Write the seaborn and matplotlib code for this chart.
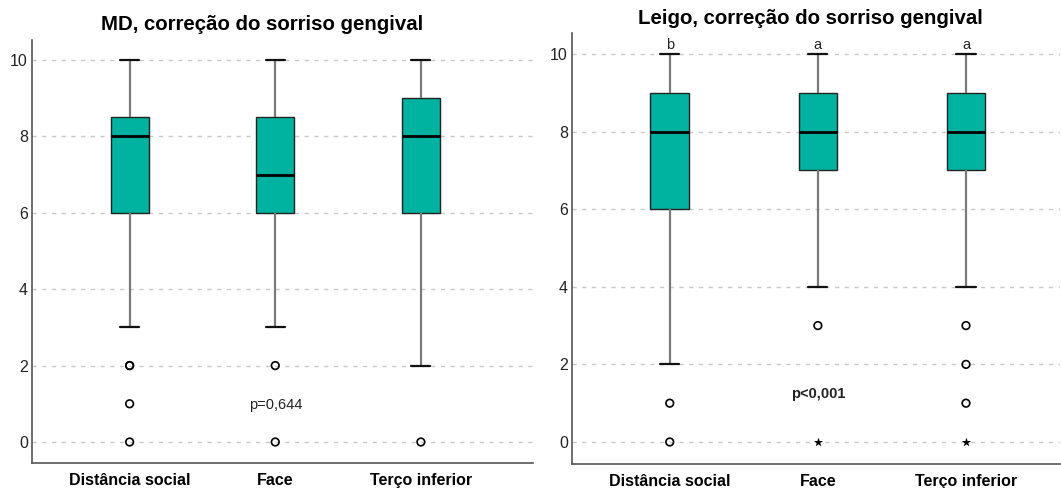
import numpy as np
import pandas as pd
import matplotlib
matplotlib.use("Agg")
import matplotlib.pyplot as plt
import seaborn as sns

# Scores 0..10 and how many raters gave each score, per view
scores = np.arange(11)
views = ["Distância social", "Face", "Terço inferior"]

md_distancia = [1, 1, 2, 1, 2, 2, 5, 6, 12, 7, 4]
md_face = [1, 0, 1, 2, 2, 3, 5, 9, 9, 7, 4]
md_terco = [1, 0, 1, 1, 2, 3, 5, 5, 11, 8, 6]

leigo_distancia = [1, 1, 2, 2, 2, 2, 4, 5, 8, 10, 8]
leigo_face = [1, 0, 0, 1, 2, 3, 4, 6, 10, 10, 8]
leigo_terco = [1, 1, 1, 1, 2, 2, 3, 6, 10, 10, 8]

titles = ["MD, correção do sorriso gengival", "Leigo, correção do sorriso gengival"]
p_labels = ["p=0,644", "p<0,001"]
group_letters = [None, ["b", "a", "a"]]

panels = [
    [md_distancia, md_face, md_terco],
    [leigo_distancia, leigo_face, leigo_terco],
]

TEAL = "#00B3A0"


def long_frame(freqs):
    rows = []
    for view, f in zip(views, freqs):
        for s in np.repeat(scores, f):
            rows.append((view, float(s)))
    return pd.DataFrame(rows, columns=["view", "score"])


def flier_frame(df):
    rows = []
    for i, view in enumerate(views):
        v = df.loc[df["view"] == view, "score"].to_numpy()
        q1, q3 = np.percentile(v, [25, 75])
        iqr = q3 - q1
        for s in v:
            if s < q1 - 3 * iqr or s > q3 + 3 * iqr:
                rows.append((i, s, "extreme"))
            elif s < q1 - 1.5 * iqr or s > q3 + 1.5 * iqr:
                rows.append((i, s, "outlier"))
    return pd.DataFrame(rows, columns=["pos", "score", "kind"])


sns.set_style("white")
plt.rcParams["font.family"] = ["Liberation Sans", "DejaVu Sans"]

fig = plt.figure(figsize=(10.61, 4.88), dpi=100)
axes = [
    fig.add_axes([0.0302, 0.0512, 0.4722, 0.8668]),
    fig.add_axes([0.5391, 0.0492, 0.4600, 0.8832]),
]
xlims = [(-0.67, 2.77), (-0.66, 2.635)]
ylims = [(-0.55, 10.52), (-0.567, 10.54)]

for k, ax in enumerate(axes):
    df = long_frame(panels[k])
    sns.boxplot(
        data=df, x="view", y="score", order=views, ax=ax,
        color=TEAL, saturation=1, width=0.26, showfliers=False,
        linecolor="#222222", linewidth=1.0,
        whiskerprops=dict(color="#7a7a7a", linewidth=1.6),
        capprops=dict(color="#111111", linewidth=1.6),
        medianprops=dict(color="black", linewidth=2.0),
    )
    fl = flier_frame(df)
    out = fl[fl["kind"] == "outlier"]
    ext = fl[fl["kind"] == "extreme"]
    if len(out):
        sns.scatterplot(data=out, x="pos", y="score", ax=ax, marker="o",
                        s=30, facecolors="none", edgecolors="black",
                        linewidth=1.2, zorder=4, legend=False)
    if len(ext):
        sns.scatterplot(data=ext, x="pos", y="score", ax=ax, marker="*",
                        s=48, color="black", linewidth=0, zorder=4,
                        legend=False)

    ax.set_xlim(*xlims[k])
    ax.set_ylim(*ylims[k])
    ax.set_yticks([0, 2, 4, 6, 8, 10])
    ax.set_xticks(range(len(views)))
    ax.set_xticklabels(views, fontsize=11.5, fontweight="bold", color="black")
    ax.tick_params(axis="y", length=0, labelsize=11.5, labelcolor="#222222", pad=3)
    ax.tick_params(axis="x", length=0, pad=7)
    ax.set_xlabel("")
    ax.set_ylabel("")
    ax.yaxis.grid(True, linestyle=(0, (3, 4)), color="#c8c8c8", linewidth=1.0)
    ax.set_axisbelow(True)
    sns.despine(ax=ax)
    for side in ("left", "bottom"):
        ax.spines[side].set_color("#555555")
        ax.spines[side].set_linewidth(1.2)

# panel titles, centred over each half of the figure
fig.text(262 / 1061, 1 - 25 / 488, titles[0], ha="center", va="center",
         fontsize=14.7, fontweight="bold", color="black")
fig.text(810 / 1061, 1 - 19 / 488, titles[1], ha="center", va="center",
         fontsize=14.7, fontweight="bold", color="black")

# p-values
axes[0].text(1, 0.97, p_labels[0], ha="center", va="center", fontsize=10.5, color="#222222")
axes[1].text(1, 1.24, p_labels[1], ha="center", va="center", fontsize=10.5,
             fontweight="bold", color="#222222")

# group letters above the upper whiskers
for i, letter in enumerate(group_letters[1]):
    axes[1].text(i, 10.05, letter, ha="center", va="bottom", fontsize=10.5, color="#222222")

fig.savefig("out.png", dpi=100)
